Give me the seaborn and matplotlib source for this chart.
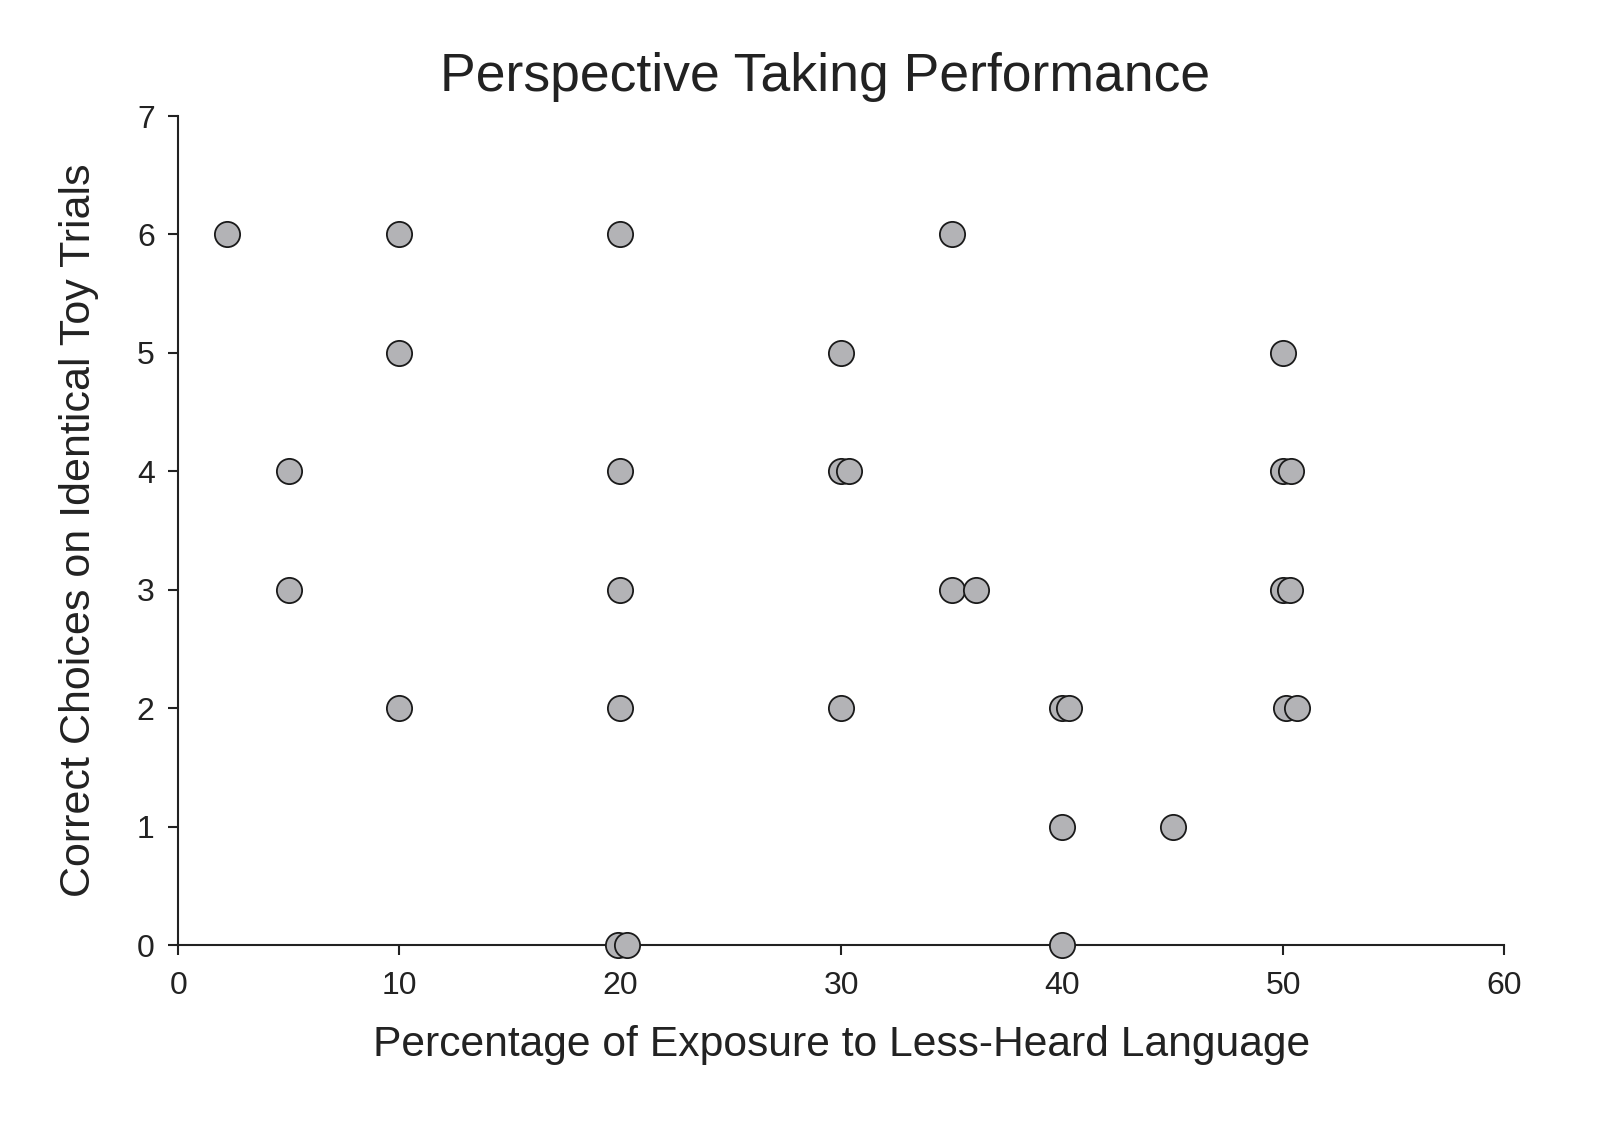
import matplotlib
matplotlib.use("Agg")
import matplotlib.pyplot as plt
import seaborn as sns
import pandas as pd

exposure = [2.2, 10, 20, 35,
            10, 30, 50,
            5, 20, 30, 30.35, 50, 50.35,
            5, 20, 35, 36.1, 50, 50.3,
            10, 20, 30, 40, 40.3, 50.1, 50.6,
            40, 45,
            19.9, 20.3, 40]
correct = [6, 6, 6, 6,
           5, 5, 5,
           4, 4, 4, 4, 4, 4,
           3, 3, 3, 3, 3, 3,
           2, 2, 2, 2, 2, 2, 2,
           1, 1,
           0, 0, 0]
x_ticks = [0, 10, 20, 30, 40, 50, 60]
y_ticks = [0, 1, 2, 3, 4, 5, 6, 7]

df = pd.DataFrame({"exposure": exposure, "correct": correct})

sns.set_theme(style="ticks")
plt.rcParams['font.family'] = ['Liberation Sans', 'DejaVu Sans']

fig = plt.figure(figsize=(16, 11.21), dpi=100)
ax = fig.add_axes([0.1114, 0.157, 0.8288, 0.7395])

sns.scatterplot(data=df, x="exposure", y="correct", ax=ax, s=330,
                color="#b3b3b6", edgecolor="#1a1a1a", linewidth=1.3,
                clip_on=False, zorder=5)

ax.set_xlim(0, 60)
ax.set_ylim(0, 7)
ax.set_xticks(x_ticks)
ax.set_yticks(y_ticks)
ax.tick_params(axis="both", labelsize=23, length=7, width=1.5, color="#222222",
               labelcolor="#222222")
ax.tick_params(axis="y", pad=10)
ax.tick_params(axis="x", pad=12)
for side in ["top", "right"]:
    ax.spines[side].set_visible(False)
for side in ["left", "bottom"]:
    ax.spines[side].set_linewidth(1.5)
    ax.spines[side].set_color("#222222")

ax.set_xlabel("Percentage of Exposure to Less-Heard Language", fontsize=30.7,
              color="#222222")
ax.xaxis.set_label_coords(0.5, -0.1206)
ax.xaxis.label.set_va("center")
ax.set_ylabel("Correct Choices on Identical Toy Trials", fontsize=31,
              color="#222222")
ax.yaxis.set_label_coords(-0.0747, 0.5)
ax.yaxis.label.set_va("center")
ax.set_title("Perspective Taking Performance", fontsize=38.5, color="#222222",
             x=0.488, y=1.037, va="center")

fig.savefig("out.png", dpi=100)
